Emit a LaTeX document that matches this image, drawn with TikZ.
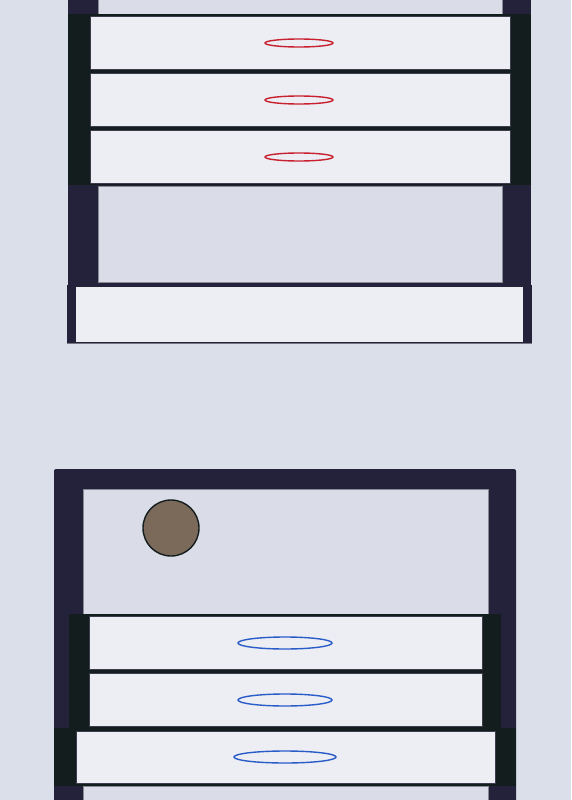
\documentclass[tikz,border=0pt]{standalone}
\usetikzlibrary{shapes.geometric}
\definecolor{bgc}{HTML}{DADFEA}
\definecolor{panelc}{HTML}{DADDE8}
\definecolor{framec}{HTML}{24213A}
\definecolor{railc}{HTML}{141D1E}
\definecolor{drawerc}{HTML}{ECEEF4}
\definecolor{edgec}{HTML}{3C3C4C}
\definecolor{redc}{HTML}{C8202E}
\definecolor{bluec}{HTML}{2A5CC8}
\definecolor{knobc}{HTML}{7B6A5A}
\tikzset{
  frame/.style={fill=framec},
  rail/.style={fill=railc},
  panel/.style={fill=panelc, draw=edgec!60, line width=0.5pt},
  drawerbox/.style={fill=drawerc, draw=edgec, line width=0.6pt},
  redhandle/.style={draw=redc, line width=1.4pt},
  bluehandle/.style={draw=bluec, line width=1.4pt},
}
\begin{document}
\begin{tikzpicture}[x=1pt,y=-1pt]
\fill[bgc] (0,0) rectangle (571,800);
\useasboundingbox (0,0) rectangle (571,800);
% ---------- top cabinet ----------
\fill[frame] (68,-5) rectangle (531,286);
\draw[panel] (98,-5) rectangle (502,14);
\draw[panel] (98,186) rectangle (502,282);
\fill[rail] (68,14) rectangle (531,185);
\draw[drawerbox] (90,16) rectangle (510,69);
\draw[drawerbox] (90,73) rectangle (510,126);
\draw[drawerbox] (90,130) rectangle (510,183);
\draw[redhandle] (299,43) ellipse [x radius=34, y radius=4];
\draw[redhandle] (299,100) ellipse [x radius=34, y radius=4];
\draw[redhandle] (299,157) ellipse [x radius=34, y radius=4];
% base
\fill[frame] (67,285) rectangle (532,343);
\fill[drawerc] (76,287) rectangle (523,342);
\draw[edgec!70, line width=0.6pt] (67,343) -- (532,343);
% ---------- bottom cabinet ----------
\fill[frame, rounded corners=2pt] (54,469) rectangle (516,805);
\draw[panel] (83,489) rectangle (488,614);
\draw[panel] (83,786) rectangle (488,805);
\fill[rail] (69,614) rectangle (501,728);
\fill[rail] (54,728) rectangle (516,786);
\draw[drawerbox] (89,616) rectangle (482,669);
\draw[drawerbox] (89,673) rectangle (482,726);
\draw[drawerbox] (76,731) rectangle (495,783);
\draw[bluehandle] (285,643) ellipse [x radius=47, y radius=6];
\draw[bluehandle] (285,700) ellipse [x radius=47, y radius=6];
\draw[bluehandle] (285,757) ellipse [x radius=51, y radius=6];
\draw[fill=knobc, draw=railc, line width=1.4pt] (171,528) circle [radius=28];
\end{tikzpicture}
\end{document}
